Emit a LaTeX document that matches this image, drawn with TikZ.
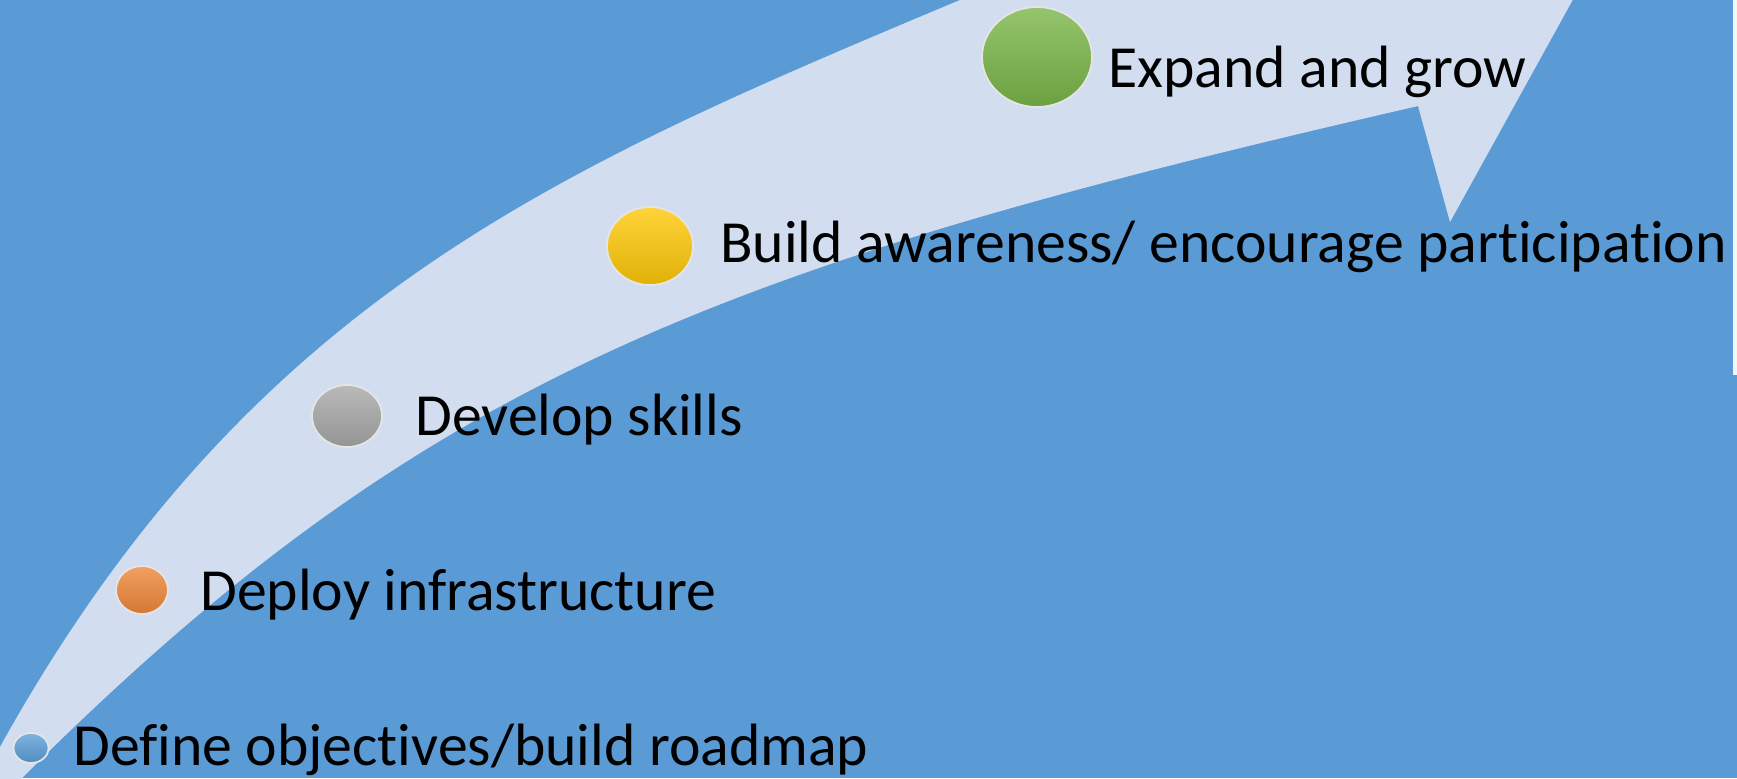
\documentclass[tikz,border=0pt]{standalone}
\usepackage{fontspec}
\setmainfont{Carlito}[Ligatures=NoCommon]
\usetikzlibrary{shapes.geometric,positioning}

\definecolor{slideblue}{HTML}{5B9BD5}
\definecolor{bandblue}{HTML}{D2DEEF}
\definecolor{ballgreen}{HTML}{7AB648}
\definecolor{ballyellow}{HTML}{FFC908}
\definecolor{ballgray}{HTML}{A8A8A8}
\definecolor{ballorange}{HTML}{F0883A}
\definecolor{ballblue}{HTML}{5CA0DA}

\tikzset{
 ball/.style={ellipse, inner sep=0pt, draw=white!80!gray, line width=1pt,
   top color=#1!80!white, middle color=#1, bottom color=#1!88!black},
 stage/.style={anchor=base west, inner sep=0pt, text=black,
   font=\fontsize{34}{40}\selectfont}
}

\begin{document}
\begin{tikzpicture}[x=0.02cm, y=-0.02cm]
 \fill[slideblue] (0,0) rectangle (1737,778);
 \fill[white!92!slideblue] (1733,0) rectangle (1737,375);

 % curved arrow
 \begin{scope}
 \clip (0,0) rectangle (1737,778);
 \fill[bandblue] (-20,783) -- (0,747) .. controls (250,297) and (560,168) .. (960,0)
   -- (1100,-55) -- (1634,-111) -- (1450,222) -- (1418,106)
   .. controls (718,267) and (422,378) .. (22,778)
   -- (10,800) -- (-20,800) -- cycle;
 \end{scope}

 \node[ball=ballblue, minimum width=0.7cm, minimum height=0.6cm] (b1) at (31,748) {};
 \node[ball=ballorange, minimum width=1.04cm, minimum height=0.96cm] (b2) at (142,590) {};
 \node[ball=ballgray, minimum width=1.4cm, minimum height=1.24cm] (b3) at (347,416) {};
 \node[ball=ballyellow, minimum width=1.72cm, minimum height=1.56cm] (b4) at (650,246) {};
 \node[ball=ballgreen, minimum width=2.2cm, minimum height=2cm] (b5) at (1037,57) {};

 \node[stage] (define) at (73,765) {Define objectives/build roadmap};
 \node[stage] (infra) at (200,610) {Deploy infrastructure};
 \node[stage] (skills) at (415,435) {Develop skills};
 \node[stage] (aware) at (720,262) {Build awareness/ encourage participation};
 \node[stage] (grow) at (1108,87) {Expand and grow};
\end{tikzpicture}
\end{document}
